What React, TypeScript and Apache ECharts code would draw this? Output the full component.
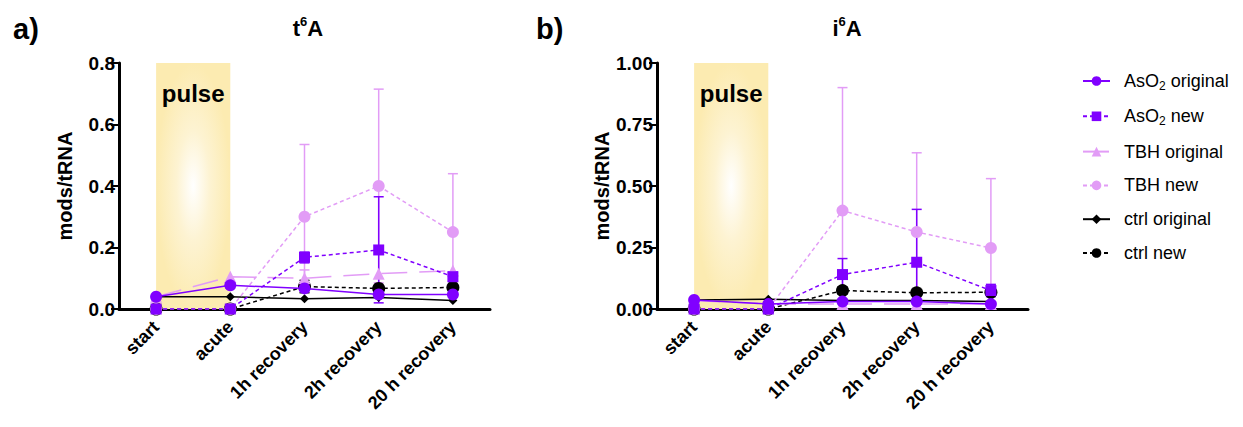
import React, { useEffect, useRef } from "react";
import * as echarts from "echarts";

const categories = ["start", "acute", "1h recovery", "2h recovery", "20 h recovery"];

// t6A panel
const t6A_AsO2_original = [0.04, 0.077, 0.067, 0.047, 0.047];
const t6A_AsO2_new = [0, 0, 0.168, 0.192, 0.105];
const t6A_TBH_original = [0.04, 0.105, 0.1, 0.115, 0.125];
const t6A_TBH_new = [0, 0, 0.3, 0.4, 0.25];
const t6A_ctrl_original = [0.04, 0.04, 0.033, 0.037, 0.028];
const t6A_ctrl_new = [0, 0, 0.073, 0.067, 0.07];

const t6A_AsO2_new_err = [null, null, [0.15, 0.185], [0.02, 0.365], [0.09, 0.12]];
const t6A_TBH_original_err = [null, null, [0.075, 0.127], null, null];
const t6A_TBH_new_err = [null, null, [0.065, 0.535], [0.085, 0.715], [0.06, 0.44]];
const t6A_ctrl_new_err = [null, null, [0.053, 0.093], null, null];

// i6A panel
const i6A_AsO2_original = [0.037, 0.02, 0.03, 0.03, 0.02];
const i6A_AsO2_new = [0, 0, 0.14, 0.19, 0.075];
const i6A_TBH_original = [0.035, 0.02, 0.02, 0.02, 0.02];
const i6A_TBH_new = [0, 0, 0.4, 0.313, 0.248];
const i6A_ctrl_original = [0.037, 0.04, 0.035, 0.035, 0.03];
const i6A_ctrl_new = [0, 0, 0.075, 0.066, 0.068];

const i6A_AsO2_new_err = [null, null, [0.075, 0.205], [0, 0.405], [0.05, 0.1]];
const i6A_TBH_new_err = [null, null, [0, 0.9], [0, 0.635], [0, 0.53]];
const i6A_ctrl_new_err = [null, null, [0.06, 0.09], null, null];

const t6ATicks = { min: 0, max: 0.8, interval: 0.2, digits: 1 };
const i6ATicks = { min: 0, max: 1, interval: 0.25, digits: 2 };

const PURPLE = "#8000ff";
const PINK = "#e29cf6";
const BLACK = "#000000";
const FONT = "Liberation Sans, Arial, sans-serif";

const seriesDefs = [
  { name: "ctrl original", color: BLACK, symbol: "diamond", size: 9, dash: "solid" as any },
  { name: "ctrl new", color: BLACK, symbol: "circle", size: 13, dash: [4, 3] },
  { name: "TBH original", color: PINK, symbol: "triangle", size: 12, dash: [26, 12] },
  { name: "TBH new", color: PINK, symbol: "circle", size: 12, dash: [4, 3] },
  { name: "AsO2 new", color: PURPLE, symbol: "rect", size: 11, dash: [4, 3] },
  { name: "AsO2 original", color: PURPLE, symbol: "circle", size: 12, dash: "solid" as any },
];

function errRender(color: string) {
  return (params: any, api: any) => {
    const x = api.value(0);
    const lo = api.value(1);
    const hi = api.value(2);
    const p1 = api.coord([x, hi]);
    const p2 = api.coord([x, lo]);
    const w = 5;
    const style = { stroke: color, lineWidth: 1.5 };
    return {
      type: "group",
      children: [
        { type: "line", shape: { x1: p1[0], y1: p1[1], x2: p2[0], y2: p2[1] }, style },
        { type: "line", shape: { x1: p1[0] - w, y1: p1[1], x2: p1[0] + w, y2: p1[1] }, style },
        { type: "line", shape: { x1: p2[0] - w, y1: p2[1], x2: p2[0] + w, y2: p2[1] }, style },
      ],
    };
  };
}

function errData(arr: any[]) {
  const out: any[] = [];
  arr.forEach((e, i) => {
    if (e) out.push([i, e[0], e[1]]);
  });
  return out;
}

export default function App() {
  const ref = useRef<HTMLDivElement>(null);
  useEffect(() => {
    document.body.style.margin = "0";
    const chart = echarts.init(ref.current!, null, { renderer: "svg" });

    const panelData: any[] = [
      {
        lines: {
          "ctrl original": t6A_ctrl_original,
          "ctrl new": t6A_ctrl_new,
          "TBH original": t6A_TBH_original,
          "TBH new": t6A_TBH_new,
          "AsO2 new": t6A_AsO2_new,
          "AsO2 original": t6A_AsO2_original,
        },
        errs: [
          [t6A_TBH_new_err, PINK],
          [t6A_TBH_original_err, PINK],
          [t6A_AsO2_new_err, PURPLE],
          [t6A_ctrl_new_err, BLACK],
        ],
      },
      {
        lines: {
          "ctrl original": i6A_ctrl_original,
          "ctrl new": i6A_ctrl_new,
          "TBH original": i6A_TBH_original,
          "TBH new": i6A_TBH_new,
          "AsO2 new": i6A_AsO2_new,
          "AsO2 original": i6A_AsO2_original,
        },
        errs: [
          [i6A_TBH_new_err, PINK],
          [i6A_AsO2_new_err, PURPLE],
          [i6A_ctrl_new_err, BLACK],
        ],
      },
    ];

    const pulseGradient = {
      type: "radial",
      x: 0.5,
      y: 0.5,
      r: 0.5,
      colorStops: [
        { offset: 0, color: "#ffffff" },
        { offset: 0.45, color: "#fdf3d2" },
        { offset: 1, color: "#fcebb1" },
      ],
    };

    const series: any[] = [];
    panelData.forEach((p, gi) => {
      p.errs.forEach(([arr, color]: any) => {
        series.push({
          type: "custom",
          xAxisIndex: gi,
          yAxisIndex: gi,
          renderItem: errRender(color),
          encode: { x: 0, y: [1, 2] },
          data: errData(arr),
          z: 1,
          silent: true,
        });
      });
      seriesDefs.forEach((d, si) => {
        const s: any = {
          type: "line",
          name: d.name,
          xAxisIndex: gi,
          yAxisIndex: gi,
          data: p.lines[d.name],
          symbol: d.symbol,
          symbolSize: d.size,
          showAllSymbol: true,
          itemStyle: { color: d.color },
          lineStyle: { color: d.color, width: 1.5, type: d.dash },
          z: 2 + si,
        };
        if (si === 0) {
          s.markArea = {
            silent: true,
            itemStyle: { color: pulseGradient },
            label: {
              show: true,
              position: "insideTop",
              distance: 18,
              formatter: "pulse",
              color: "#000",
              fontSize: 24,
              fontWeight: "bold",
              fontFamily: FONT,
            },
            data: [[{ xAxis: "start" }, { xAxis: "acute" }]],
          };
        }
        series.push(s);
      });
    });

    const mkX = (gi: number) => ({
      type: "category",
      gridIndex: gi,
      data: categories,
      boundaryGap: true,
      axisLine: { lineStyle: { color: "#000", width: 3 } },
      axisTick: { alignWithLabel: true, length: 8, lineStyle: { color: "#000", width: 2 } },
      axisLabel: {
        rotate: 45,
        margin: 15,
        color: "#000",
        fontSize: 18,
        fontWeight: "bold",
        fontFamily: FONT,
        interval: 0,
      },
    });
    const mkY = (gi: number, t: any) => ({
      type: "value",
      gridIndex: gi,
      min: t.min,
      max: t.max,
      interval: t.interval,
      name: "mods/tRNA",
      nameLocation: "middle",
      nameGap: 44,
      nameTextStyle: { color: "#000", fontSize: 20, fontWeight: "bold", fontFamily: FONT },
      splitLine: { show: false },
      axisLine: { show: true, lineStyle: { color: "#000", width: 3 } },
      axisTick: { show: true, length: 8, lineStyle: { color: "#000", width: 2 } },
      axisLabel: {
        margin: 4,
        color: "#000",
        fontSize: 19,
        fontWeight: "bold",
        fontFamily: FONT,
        formatter: (v: number) => v.toFixed(t.digits),
      },
    });

    const legendNames = ["AsO2 original", "AsO2 new", "TBH original", "TBH new", "ctrl original", "ctrl new"];

    const titleRich = {
      b: { fontSize: 22, fontWeight: "bold", color: "#000", fontFamily: FONT, lineHeight: 26 },
      s: { fontSize: 13, fontWeight: "bold", color: "#000", fontFamily: FONT, verticalAlign: "top", lineHeight: 14 },
    };

    chart.setOption({
      animation: false,
      backgroundColor: "#ffffff",
      textStyle: { fontFamily: FONT },
      title: [
        { text: "{b|t}{s|6}{b|A}", left: 303, top: 10, textAlign: "center", textStyle: { rich: titleRich } },
        { text: "{b|i}{s|6}{b|A}", left: 842, top: 10, textAlign: "center", textStyle: { rich: titleRich } },
        {
          text: "a)",
          left: 8,
          top: 9,
          textStyle: { fontSize: 29, fontWeight: "bold", color: "#000", fontFamily: FONT },
        },
        {
          text: "b)",
          left: 531,
          top: 9,
          textStyle: { fontSize: 29, fontWeight: "bold", color: "#000", fontFamily: FONT },
        },
      ],
      legend: {
        orient: "vertical",
        left: 1077,
        top: 67,
        itemWidth: 27,
        itemHeight: 12,
        itemGap: 15.8,
        data: legendNames,
        formatter: (name: string) => {
          if (name.startsWith("AsO2")) {
            return "{n|AsO}{sub|2}{n|" + name.slice(4) + "}";
          }
          return "{n|" + name + "}";
        },
        textStyle: {
          color: "#000",
          padding: [0, 0, 0, 9],
          rich: {
            n: { fontSize: 18, color: "#000", fontFamily: FONT, lineHeight: 21 },
            sub: { fontSize: 12, color: "#000", fontFamily: FONT, verticalAlign: "bottom", lineHeight: 10 },
          },
        },
      },
      grid: [
        { left: 119, top: 63, width: 371, height: 246 },
        { left: 657, top: 63, width: 371, height: 246 },
      ],
      xAxis: [mkX(0), mkX(1)],
      yAxis: [mkY(0, t6ATicks), mkY(1, i6ATicks)],
      series,
    });
    return () => chart.dispose();
  }, []);
  return <div ref={ref} style={{ width: 1243, height: 427 }} />;
}
